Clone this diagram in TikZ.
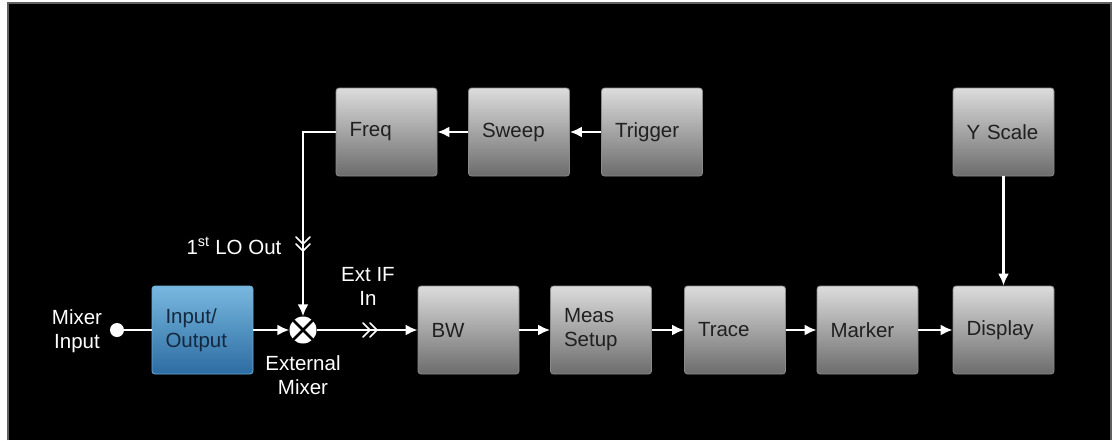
\documentclass[tikz,border=0pt]{standalone}
\usepackage{fontspec}
\setmainfont{Liberation Sans}
\usetikzlibrary{arrows.meta}
\definecolor{gtop}{HTML}{DCDCDC}
\definecolor{gbot}{HTML}{6C6C6C}
\definecolor{gedge}{HTML}{8A8A8A}
\definecolor{btop}{HTML}{78B8DF}
\definecolor{bbot}{HTML}{2C6CA2}
\definecolor{bedge}{HTML}{6FAED8}
\definecolor{txtdark}{HTML}{202020}
\definecolor{txtblue}{HTML}{152840}
\definecolor{frame}{HTML}{606060}
\begin{document}
\begin{tikzpicture}[x=1pt,y=-1pt,
  lbl/.style={font=\fontsize{20.5}{24}\selectfont},
  blk/.style={lbl, rounded corners=3pt, draw=gedge, line width=0.8pt,
    top color=gtop, bottom color=gbot, text=txtdark,
    minimum height=88pt, text width=74pt, inner xsep=13.5pt, inner ysep=0pt, align=left},
  blue/.style={blk, draw=bedge, top color=btop, bottom color=bbot, text=txtblue},
  wlbl/.style={lbl, text=white, align=center, inner sep=0pt},
  conn/.style={draw=white, line width=2.2pt},
  arr/.style={conn, -{Latex[length=12pt,width=11pt]}},
  chev/.style={draw=white, line width=1.6pt, line cap=round, line join=miter}
]
\useasboundingbox (0,0) rectangle (1114,440);
\fill[white] (0,0) rectangle (1114,440);
\fill[black] (8,3) rectangle (1111,440);
\draw[frame, line width=1.5pt] (8,440) -- (8,3) -- (1111,3) -- (1111,440);

% top row
\node[blk] (freq) at (386.5,132) {Freq};
\node[blk] (sweep) at (519,132) {Sweep};
\node[blk] (trig) at (652,132) {Trigger};
\node[blk] (ysc) at (1003.5,132) {Y Scale};

% bottom row
\node[blue] (io) at (202.5,330) {Input/\\Output};
\node[blk] (bw) at (468.5,330) {BW};
\node[blk] (meas) at (601,330) {Meas\\Setup};
\node[blk] (trace) at (735,330) {Trace};
\node[blk] (mark) at (867.5,330) {Marker};
\node[blk] (disp) at (1003.5,330) {Display};

% mixer and input dot
\node[circle, fill=white, minimum size=27pt, inner sep=0pt] (mix) at (303,330) {};
\draw[black, line width=2.6pt] (mix.45) -- (mix.225) (mix.135) -- (mix.315);
\node[circle, fill=white, minimum size=14pt, inner sep=0pt] (dot) at (117,330) {};

% labels
\node[wlbl] (lmi) at (77,331) {Mixer\\Input};
\node[wlbl] (llo) at (234,246) {1\textsuperscript{st} LO Out};
\node[wlbl] (lif) at (368,286) {Ext IF\\In};
\node[wlbl] (lem) at (303,375) {External\\Mixer};

% connectors
\draw[arr] (sweep.west) -- (freq.east);
\draw[arr] (trig.west) -- (sweep.east);
\draw[arr] (ysc.south) -- (disp.north);
\draw[conn] (dot) -- (io.west);
\draw[arr] (io.east) -- (mix.west);
\draw[arr] (freq.west) -| (mix.north);
\draw[arr] (mix.east) -- (bw.west);
\draw[arr] (bw.east) -- (meas.west);
\draw[arr] (meas.east) -- (trace.west);
\draw[arr] (trace.east) -- (mark.west);
\draw[arr] (mark.east) -- (disp.west);

% chevrons
\coordinate (lo1) at (303,244);
\coordinate (lo2) at (303,251);
\fill[black] (296,237) rectangle (310,252);
\draw[white, line width=2.2pt] (303,236) -- (303,253);
\foreach \c in {lo1,lo2}
  \draw[chev] ([shift={(-7,-7)}]\c) -- (\c) -- ([shift={(7,-7)}]\c);
\coordinate (if1) at (370,330);
\coordinate (if2) at (377,330);
\foreach \c in {if1,if2}
  \draw[chev] ([shift={(-7,-7)}]\c) -- (\c) -- ([shift={(-7,7)}]\c);
\end{tikzpicture}
\end{document}
